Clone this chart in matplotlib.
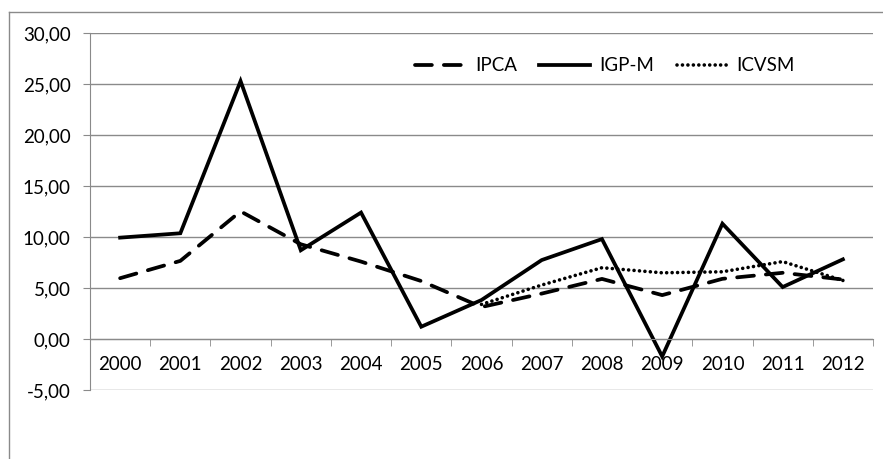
import matplotlib
matplotlib.use("Agg")
import matplotlib.pyplot as plt
from matplotlib.lines import Line2D
from matplotlib.ticker import FuncFormatter

plt.rcParams['font.family'] = ['Lato', 'DejaVu Sans']

years = ['2000', '2001', '2002', '2003', '2004', '2005', '2006',
         '2007', '2008', '2009', '2010', '2011', '2012']
ipca = [5.97, 7.67, 12.53, 9.30, 7.60, 5.69, 3.14, 4.46, 5.90, 4.31, 5.91, 6.50, 5.84]
igpm = [9.95, 10.38, 25.31, 8.71, 12.41, 1.21, 3.83, 7.75, 9.81, -1.71, 11.32, 5.10, 7.82]
icvsm_years = years[6:]
icvsm = [3.4, 5.3, 7.0, 6.5, 6.6, 7.6, 5.75]

grid_gray = '#8a8a8a'
fs = 13.5

fig = plt.figure(figsize=(8.83, 4.59), dpi=100)
ax = fig.add_axes([90 / 883, 1 - 390 / 459, (873 - 90) / 883, (390 - 33.3) / 459])

x = list(range(len(years)))
x_icvsm = [years.index(y) for y in icvsm_years]

ax.plot(x, ipca, color='black', lw=2.7, dashes=(4.5, 3.2), dash_capstyle='round',
        label='IPCA')
ax.plot(x, igpm, color='black', lw=2.7, solid_joinstyle='miter', label='IGP-M')
ax.plot(x_icvsm, icvsm, color='black', lw=2.6, dashes=(0.01, 1.5),
        dash_capstyle='round', label='ICVSM')

ax.set_xlim(-0.5, len(years) - 0.5)
ax.set_ylim(-5, 30)
ax.set_yticks([-5, 0, 5, 10, 15, 20, 25, 30])
ax.yaxis.set_major_formatter(FuncFormatter(lambda v, p: f"{v:.2f}".replace('.', ',')))
ax.grid(axis='y', color=grid_gray, lw=1)
ax.set_axisbelow(True)

for s in ['top', 'right']:
    ax.spines[s].set_visible(False)
ax.spines['left'].set_color(grid_gray)
ax.spines['bottom'].set_color(grid_gray)
ax.spines['bottom'].set_position(('data', 0))

ax.set_xticks(x)
ax.set_xticklabels(years)
ax.set_xticks([i - 0.5 for i in range(len(years) + 1)], minor=True)
ax.tick_params(axis='x', which='major', length=0, pad=12, labelsize=fs)
ax.tick_params(axis='x', which='minor', length=5, color=grid_gray, direction='out')
ax.tick_params(axis='y', length=5, color=grid_gray, labelsize=fs, pad=9)

ax.legend(loc='center left', bbox_to_anchor=(398 / 883, 1 - 66 / 459),
          bbox_transform=fig.transFigure, ncol=3, frameon=False, fontsize=fs,
          handlelength=2.7, handletextpad=0.5, columnspacing=1.2)

fig.add_artist(Line2D([9 / 883, 9 / 883], [0, 1 - 12 / 459], color=grid_gray, lw=1))
fig.add_artist(Line2D([9 / 883, 1], [1 - 12 / 459, 1 - 12 / 459], color=grid_gray, lw=1))

fig.savefig('out.png', dpi=100)
